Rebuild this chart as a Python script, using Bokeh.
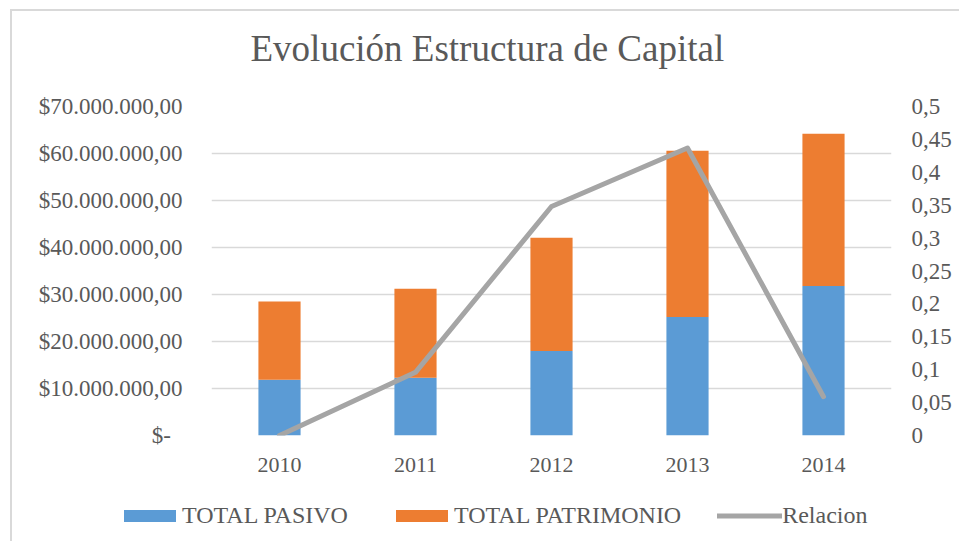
from bokeh.plotting import figure
from bokeh.layouts import column
from bokeh.models import (ColumnDataSource, Range1d, LinearAxis, FixedTicker,
                          Legend, LegendItem, FactorRange)
from bokeh.embed import file_html
from bokeh.resources import INLINE

# ---- data ----
years = ["2010", "2011", "2012", "2013", "2014"]
total_pasivo = [11850000, 12300000, 18000000, 25200000, 31800000]
total_patrimonio = [16650000, 18900000, 24100000, 35400000, 32400000]
relacion = [0.0, 0.096, 0.348, 0.437, 0.059]

left_ticks = [0, 10000000, 20000000, 30000000, 40000000, 50000000, 60000000, 70000000]
left_labels = ["$-\u00a0\u00a0", "$10.000.000,00", "$20.000.000,00", "$30.000.000,00",
               "$40.000.000,00", "$50.000.000,00", "$60.000.000,00", "$70.000.000,00"]
right_ticks = [0, 0.05, 0.1, 0.15, 0.2, 0.25, 0.3, 0.35, 0.4, 0.45, 0.5]
right_labels = ["0", "0,05", "0,1", "0,15", "0,2", "0,25", "0,3", "0,35", "0,4", "0,45", "0,5"]

title_text = "Evolución Estructura de Capital"
series_names = ["TOTAL PASIVO", "TOTAL PATRIMONIO", "Relacion"]

# ---- style ----
BLUE = "#5B9BD5"
ORANGE = "#ED7D31"
GRAY = "#A5A5A5"
GRID = "#D9D9D9"
TEXT = "#595959"
FONT = "Liberation Serif"
NAN = float("nan")

# ---- title strip ----
tf = figure(width=947, height=80, output_backend="svg", toolbar_location=None,
            x_range=Range1d(0, 1), y_range=Range1d(0, 1), min_border=0,
            x_axis_type=None, y_axis_type=None)
tf.outline_line_color = None
tf.background_fill_color = "white"
tf.border_fill_color = "white"
tf.title.text = title_text
tf.title.text_font = FONT
tf.title.text_font_size = "37px"
tf.title.text_font_style = "normal"
tf.title.text_color = TEXT
tf.title.align = "left"
tf.title.offset = 39
tf.title.standoff = 29

# ---- main chart ----
src = ColumnDataSource(dict(years=years, pasivo=total_pasivo,
                            patrimonio=total_patrimonio, relacion=relacion))

p = figure(width=947, height=410, output_backend="svg", toolbar_location=None,
           x_range=FactorRange(*years), y_range=Range1d(0, 70000000),
           min_border_left=199, min_border_right=68, min_border_top=15,
           min_border_bottom=66)
p.extra_y_ranges = {"rel": Range1d(0, 0.5)}
p.outline_line_color = None
p.background_fill_color = "white"
p.border_fill_color = "white"

bars = p.vbar_stack(["pasivo", "patrimonio"], x="years", width=0.31, source=src,
                    color=[BLUE, ORANGE], line_color=None)
line = p.line(x="years", y="relacion", source=src, y_range_name="rel",
              line_color=GRAY, line_width=5, line_cap="round", line_join="round")

p.xaxis.axis_line_color = None
p.xaxis.major_tick_line_color = None
p.xaxis.minor_tick_line_color = None
p.xaxis.major_label_text_font = FONT
p.xaxis.major_label_text_font_size = "22px"
p.xaxis.major_label_text_color = TEXT
p.xaxis.major_label_standoff = 16
p.xgrid.grid_line_color = None

p.yaxis.ticker = FixedTicker(ticks=left_ticks)
p.yaxis.major_label_overrides = dict(zip(left_ticks, left_labels))
p.yaxis.axis_line_color = None
p.yaxis.major_tick_line_color = None
p.yaxis.minor_tick_line_color = None
p.yaxis.major_label_text_font = FONT
p.yaxis.major_label_text_font_size = "23px"
p.yaxis.major_label_text_color = TEXT
p.yaxis.major_label_standoff = 23
p.ygrid.ticker = FixedTicker(ticks=left_ticks)
p.ygrid.grid_line_color = GRID
p.ygrid.grid_line_width = 1.3

raxis = LinearAxis(y_range_name="rel", ticker=FixedTicker(ticks=right_ticks))
raxis.major_label_overrides = dict(zip(right_ticks, right_labels))
raxis.axis_line_color = None
raxis.major_tick_line_color = None
raxis.minor_tick_line_color = None
raxis.major_label_text_font = FONT
raxis.major_label_text_font_size = "23px"
raxis.major_label_text_color = TEXT
raxis.major_label_standoff = 14
p.add_layout(raxis, "right")

# ---- legend strip; key renderers hold no visible data ----
lf = figure(width=947, height=40, output_backend="svg", toolbar_location=None,
            x_range=Range1d(0, 1), y_range=Range1d(0, 1), min_border=0,
            x_axis_type=None, y_axis_type=None)
lf.outline_line_color = None
lf.background_fill_color = "white"
lf.border_fill_color = "white"
can_unalign = "frame_align" in lf.properties()
if can_unalign:
    lf.frame_align = False
legend_x = 105 if can_unalign else -94

key_pasivo = lf.vbar(x=[NAN], top=[NAN], width=0.1, color=BLUE, line_color=None)
key_patr = lf.vbar(x=[NAN], top=[NAN], width=0.1, color=ORANGE, line_color=None)
key_rel = lf.line(x=[NAN], y=[NAN], line_color=GRAY, line_width=5, line_cap="round")
items = [LegendItem(label=n, renderers=[r])
         for n, r in zip(series_names, [key_pasivo, key_patr, key_rel])]
lg = Legend(items=items, location=(legend_x, 12), orientation="horizontal",
            background_fill_alpha=0, border_line_alpha=0, padding=0, margin=0,
            glyph_width=65, glyph_height=15, label_standoff=0, spacing=36,
            label_width=171, label_text_font=FONT, label_text_font_size="24px",
            label_text_color=TEXT)
lf.add_layout(lg)

layout = column(tf, p, lf, spacing=0,
                styles={"margin-left": "10px", "margin-top": "9px",
                        "border-left": "2px solid #D9D9D9",
                        "border-top": "2px solid #D9D9D9"})

open("out.html", "w").write(file_html(layout, INLINE))
